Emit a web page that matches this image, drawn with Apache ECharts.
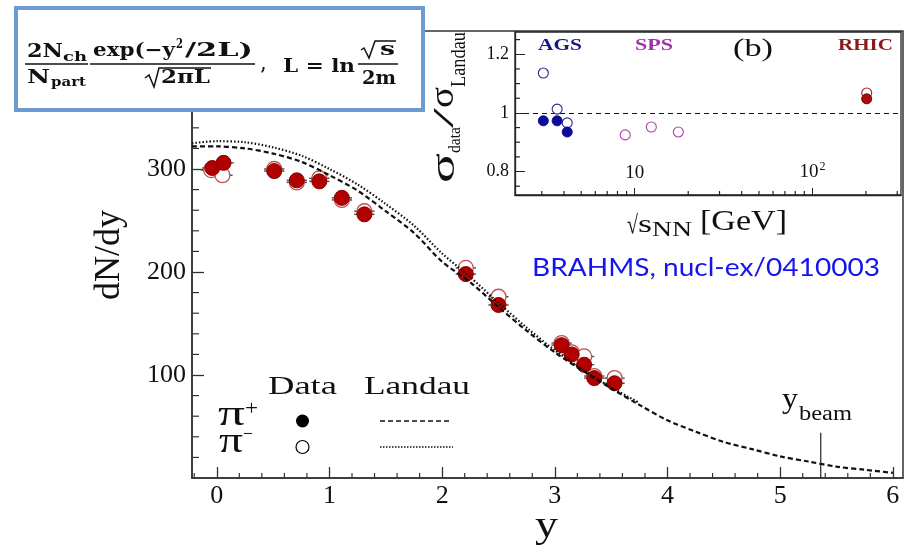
<!DOCTYPE html>
<html><head><meta charset="utf-8">
<script src="https://cdn.jsdelivr.net/npm/echarts@6/dist/echarts.min.js"></script>
<style>html,body{margin:0;padding:0;background:#fff}#c{width:907px;height:550px}</style>
</head><body><div id="c"></div>
<script>
// ---------- data ----------
const piPlusY   = [-0.04, 0.06, 0.51, 0.71, 0.91, 1.11, 1.31, 2.21, 2.50, 3.06, 3.15, 3.26, 3.35, 3.53];
const piPlusN   = [301, 306, 298, 289, 288, 272, 256, 198, 168, 129, 120, 110, 97, 92];
const piMinusY  = [-0.05, 0.05, 0.51, 0.71, 0.91, 1.11, 1.31, 2.21, 2.50, 3.06, 3.15, 3.26, 3.35, 3.53];
const piMinusN  = [299, 294, 300, 287, 291, 270, 259, 204, 176, 131, 122, 118, 99, 97];
const landauPlusY  = [-0.22, 0, 0.25, 0.5, 0.75, 1.0, 1.25, 1.5, 1.75, 2.0, 2.25, 2.5, 2.75, 3.0, 3.25, 3.5, 3.75, 4.0, 4.25, 4.5, 4.75, 5.0, 5.25, 5.5, 5.75, 6.0];
const landauPlusN  = [322, 322, 320, 315, 307, 294, 279, 259, 238, 210, 190, 166, 143, 122, 104, 87, 71, 56, 45, 35, 28, 21, 16, 11, 8, 5];
const landauMinusY = [-0.22, 0, 0.25, 0.5, 0.75, 1.0, 1.25, 1.5, 1.75, 2.0, 2.25, 2.5, 2.75, 3.0, 3.25, 3.5, 3.75];
const landauMinusN = [325, 327, 326, 321, 313, 300, 285, 266, 245, 218, 195, 170, 146, 124, 105, 88, 73];
const yBeam = 5.36;
const xTickLabels = [0, 1, 2, 3, 4, 5, 6];
const yTickLabels = [100, 200, 300, 400];
const mainXRange = [-0.22, 6.09];
const mainYRange = [0, 434];

// inset (b): sigma_data / sigma_Landau vs sqrt(s_NN)
const agsSqrtS      = [3.06, 3.66, 4.17];
const agsFilled     = [0.973, 0.973, 0.935];
const agsOpen       = [1.136, 1.013, 0.966];
const spsSqrtS      = [8.84, 12.4, 17.6];
const spsOpen       = [0.925, 0.952, 0.935];
const rhicSqrtS     = [202];
const rhicFilled    = [1.048];
const rhicOpen      = [1.068];
const insetYTicks   = [0.8, 1, 1.2];
const insetYMinor   = [0.75, 0.85, 0.9, 0.95, 1.05, 1.1, 1.15, 1.25];
const insetXLabels  = [10, 100];
const insetXMinor   = [3, 4, 5, 6, 7, 8, 9, 20, 30, 40, 50, 60, 70, 80, 90, 200, 300];
const insetXRange   = [2.12, 315];
const insetYRange   = [0.72, 1.276];

// ---------- helpers ----------
const lg = v => Math.log10(v);
const zipXY = (xs, ys) => xs.map((x, i) => [x, ys[i]]);
const zipLogXY = (xs, ys) => xs.map((x, i) => [lg(x), ys[i]]);
const mctx = document.createElement('canvas').getContext('2d');
function mw(s, font) { mctx.font = font; return mctx.measureText(s).width; }
const G = [];
function fontStr(size, fam, weight) { return (weight || 'normal') + ' ' + size + 'px ' + fam; }
function T(s, x0, x1, base, size, fam, weight, color) {
  const font = fontStr(size, fam, weight);
  const w = mw(s, font);
  G.push({ type: 'text', x: x0, y: base - 0.35 * size, scaleX: (x1 - x0) / w, z: 110,
    style: { text: s, font: font, fill: color || '#111', textAlign: 'left', textVerticalAlign: 'middle', align: 'left', verticalAlign: 'middle' } });
}
function TR(s, yBottom, yTop, base, size, fam, weight, color) {
  const font = fontStr(size, fam, weight);
  const w = mw(s, font);
  G.push({ type: 'text', x: base - 0.35 * size, y: yBottom, rotation: Math.PI / 2, scaleX: (yBottom - yTop) / w, z: 110,
    style: { text: s, font: font, fill: color || '#111', textAlign: 'left', textVerticalAlign: 'middle', align: 'left', verticalAlign: 'middle' } });
}
function L(pts, w, color, dash) {
  G.push({ type: 'polyline', z: 110, shape: { points: pts },
    style: { stroke: color || '#111', lineWidth: w, fill: null, lineDash: dash || null } });
}
const SERIF = "'Liberation Serif'";
const MATH = "'DejaVu Serif'";

// formula box
G.push({ type: 'rect', z: 105, shape: { x: 16, y: 8, width: 407, height: 102 },
  style: { fill: '#fff', stroke: '#6b9bd1', lineWidth: 4 } });
T('2N', 27, 63, 59, 19, MATH, 'bold');
T('ch', 63, 87, 62, 13, MATH, 'bold');
L([[25, 64], [88, 64]], 1.5);
T('N', 27, 50, 85, 19, MATH, 'bold');
T('part', 51, 86, 87, 13, MATH, 'bold');
T('exp(\u2212y', 93, 175, 58, 19, MATH, 'bold');
T('2', 176, 183, 49, 12, MATH, 'bold');
T('/2L)', 185, 253, 58, 19, MATH, 'bold');
L([[90, 64], [255, 64]], 1.5);
L([[145, 78], [149, 75], [154, 87], [159, 68], [211, 68]], 1.5);
T('2\u03c0L', 161, 210, 85, 19, MATH, 'bold');
T(',', 261, 266, 72, 19, MATH, 'bold');
T('L = ln', 283, 355, 74, 19, MATH, 'bold');
L([[361, 50], [364, 48], [369, 58], [375, 41], [396, 41]], 1.5);
T('s', 380, 395, 57, 19, MATH, 'bold');
L([[358, 64], [398, 64]], 1.5);
T('2m', 362, 396, 86, 19, MATH, 'bold');

// main y-axis title (centred on the axis)
TR('dN/dy', 300, 210, 122, 36, SERIF);
// main x-axis title
T('y', 535, 558, 540, 38, SERIF);

// legend
T('Data', 268, 337, 396, 26, SERIF);
T('Landau', 364, 470, 396, 26, SERIF);
T('\u03c0', 218, 245, 428, 36, SERIF);
T('+', 245, 258, 417, 22, SERIF);
T('\u03c0', 219, 243, 455, 36, SERIF);
T('\u2212', 243, 253, 442, 20, SERIF);
G.push({ type: 'circle', z: 110, shape: { cx: 302.5, cy: 421, r: 6.5 }, style: { fill: '#000' } });
G.push({ type: 'circle', z: 110, shape: { cx: 302.5, cy: 447, r: 6.5 }, style: { fill: '#fff', stroke: '#000', lineWidth: 1.2 } });
L([[380, 421], [450, 421]], 1.5, '#111', [5, 3]);
L([[380, 447], [453, 447]], 1.5, '#111', [1.5, 1.5]);

// y_beam label
T('y', 782, 798, 411, 30, SERIF);
T('beam', 799, 852, 422, 20, SERIF);

// BRAHMS reference
T('BRAHMS, nucl-ex/0410003', 532, 880, 277, 25, 'Lato', 'normal', '#1414f0');

// inset texts
T('AGS', 538, 582, 52, 17, SERIF, 'bold', '#16168a');
T('SPS', 635, 673, 52, 17, SERIF, 'bold', '#a030a8');
T('(b)', 733, 773, 58, 26, SERIF);
T('RHIC', 838, 893, 52, 17, SERIF, 'bold', '#8c1c1c');
TR('\u03c3', 183, 153, 457, 34, SERIF);
TR('data', 153, 127, 461, 17, SERIF);
TR('/', 128, 108, 456, 30, SERIF);
TR('\u03c3', 108, 87, 456, 34, SERIF);
TR('Landau', 87, 32, 467, 20, SERIF);
T('\u221a', 627, 638, 235, 26, SERIF);
T('s', 638, 652, 234, 26, SERIF);
T('NN', 652, 692, 238, 20, SERIF);
T('[GeV]', 700, 787, 233, 30, SERIF);

// ---------- chart ----------
const XERR = 0.09;
function errItem(params, api) {
  const x = api.value(0), v = api.value(1);
  const p1 = api.coord([x - XERR, v]), p2 = api.coord([x + XERR, v]);
  return { type: 'line', shape: { x1: p1[0], y1: p1[1], x2: p2[0], y2: p2[1] }, style: { stroke: '#555', lineWidth: 1.5 } };
}
// minor ticks drawn through the axes' scales
function xTickItem(yAt, len, color) {
  return function (params, api) {
    const p = api.coord([api.value(0), yAt]);
    return { type: 'line', shape: { x1: p[0], y1: p[1], x2: p[0], y2: p[1] - len }, style: { stroke: color, lineWidth: 1.2 } };
  };
}
function yTickItem(xAt, len, color) {
  return function (params, api) {
    const p = api.coord([xAt, api.value(0)]);
    return { type: 'line', shape: { x1: p[0], y1: p[1], x2: p[0] + len, y2: p[1] }, style: { stroke: color, lineWidth: 1.2 } };
  };
}
const minorX = []; for (let k = -1; k <= 30; k++) { if (k % 5 !== 0) minorX.push(+(k * 0.2).toFixed(1)); }
const minorY = []; for (let v = 20; v <= 420; v += 20) { if (v % 100 !== 0) minorY.push(v); }
const AX = '#333';
const labelFont = { fontFamily: SERIF, fontSize: 26, color: '#111' };

const option = {
  animation: false,
  backgroundColor: '#fff',
  grid: [
    { left: 192, top: 31, right: 4, bottom: 72, show: true, borderColor: AX, borderWidth: 1.5, backgroundColor: '#fff' },
    { left: 515, top: 32, right: 6, bottom: 355, show: true, borderColor: '#222', borderWidth: 1.3, backgroundColor: '#fff', z: 3 }
  ],
  xAxis: [
    { type: 'value', gridIndex: 0, position: 'bottom', min: mainXRange[0], max: mainXRange[1], splitLine: { show: false },
      axisLine: { onZero: false, lineStyle: { color: AX, width: 1.5 } },
      axisTick: { inside: true, length: 11, customValues: xTickLabels, lineStyle: { color: AX, width: 1.3 } },
      axisLabel: Object.assign({ customValues: xTickLabels, margin: 5 }, labelFont) },
    { type: 'value', gridIndex: 1, position: 'bottom', z: 6, min: lg(insetXRange[0]), max: lg(insetXRange[1]), splitLine: { show: false },
      axisLine: { onZero: false, lineStyle: { color: '#222', width: 1.3 } },
      axisTick: { inside: true, length: 7, customValues: insetXLabels.map(lg), lineStyle: { color: '#222' } },
      axisLabel: { inside: true, margin: 12, customValues: insetXLabels.map(lg), fontFamily: SERIF, fontSize: 19, color: '#111',
        formatter: v => v > 1.5 ? '{a|10}{b|2}' : '{a|10}',
        rich: { a: { fontFamily: SERIF, fontSize: 19, color: '#111' }, b: { fontFamily: SERIF, fontSize: 12, color: '#111', padding: [0, 0, 10, 1] } } } }
  ],
  yAxis: [
    { type: 'value', gridIndex: 0, position: 'left', min: mainYRange[0], max: mainYRange[1], splitLine: { show: false },
      axisLine: { onZero: false, lineStyle: { color: AX, width: 1.5 } },
      axisTick: { inside: true, length: 12, customValues: yTickLabels, lineStyle: { color: AX, width: 1.3 } },
      axisLabel: Object.assign({ customValues: yTickLabels, margin: 6 }, labelFont) },
    { type: 'value', gridIndex: 1, position: 'left', z: 6, min: insetYRange[0], max: insetYRange[1], splitLine: { show: false },
      axisLine: { onZero: false, lineStyle: { color: '#222', width: 1.3 } },
      axisTick: { inside: true, length: 10, customValues: insetYTicks, lineStyle: { color: '#222' } },
      axisLabel: { customValues: insetYTicks, margin: 6, fontFamily: SERIF, fontSize: 18, color: '#111' } }
  ],
  graphic: { elements: G },
  series: [
    // minor ticks
    { type: 'custom', xAxisIndex: 0, yAxisIndex: 0, z: 2, silent: true, clip: false, renderItem: xTickItem(mainYRange[0], 5, AX), data: minorX.map(v => [v, 0]) },
    { type: 'custom', xAxisIndex: 0, yAxisIndex: 0, z: 2, silent: true, clip: false, renderItem: yTickItem(mainXRange[0], 7, AX), data: minorY.map(v => [v, 0]) },
    { type: 'custom', xAxisIndex: 1, yAxisIndex: 1, z: 8, silent: true, clip: false, renderItem: xTickItem(insetYRange[0], 4, '#222'), data: insetXMinor.map(v => [lg(v), 0]) },
    { type: 'custom', xAxisIndex: 1, yAxisIndex: 1, z: 8, silent: true, clip: false, renderItem: yTickItem(lg(insetXRange[0]), 5, '#222'), data: insetYMinor.map(v => [v, 0]) },
    // error bars
    { type: 'custom', xAxisIndex: 0, yAxisIndex: 0, z: 2, renderItem: errItem, data: zipXY(piMinusY, piMinusN), silent: true },
    { type: 'custom', xAxisIndex: 0, yAxisIndex: 0, z: 2, renderItem: errItem, data: zipXY(piPlusY, piPlusN), silent: true },
    { type: 'scatter', xAxisIndex: 0, yAxisIndex: 0, z: 3, symbol: 'circle', symbolSize: 15,
      itemStyle: { color: '#fff', borderColor: '#c0504d', borderWidth: 1.3, opacity: 1 }, data: zipXY(piMinusY, piMinusN) },
    { type: 'scatter', xAxisIndex: 0, yAxisIndex: 0, z: 4, symbol: 'circle', symbolSize: 15,
      itemStyle: { color: '#b00000', borderColor: '#8a0000', borderWidth: 1, opacity: 1 }, data: zipXY(piPlusY, piPlusN) },
    { type: 'line', xAxisIndex: 0, yAxisIndex: 0, z: 5, smooth: 0.3, showSymbol: false, symbol: 'none',
      lineStyle: { color: '#111', width: 2.2, type: [5, 3] }, data: zipXY(landauPlusY, landauPlusN) },
    { type: 'line', xAxisIndex: 0, yAxisIndex: 0, z: 5, smooth: 0.3, showSymbol: false, symbol: 'none',
      lineStyle: { color: '#111', width: 2.2, type: [1.5, 2] }, data: zipXY(landauMinusY, landauMinusN) },
    { type: 'line', xAxisIndex: 0, yAxisIndex: 0, z: 5, showSymbol: false, symbol: 'none',
      lineStyle: { color: '#222', width: 1.2 }, data: [[yBeam, 0], [yBeam, 44]] },
    // inset
    { type: 'scatter', xAxisIndex: 1, yAxisIndex: 1, z: 6, symbolSize: 10,
      itemStyle: { color: '#fff', borderColor: '#2a2a8a', borderWidth: 1.1, opacity: 1 }, data: zipLogXY(agsSqrtS, agsOpen),
      markLine: { silent: true, symbol: 'none', label: { show: false }, lineStyle: { color: '#111', type: [5, 4], width: 1.2 }, data: [{ yAxis: 1 }] } },
    { type: 'scatter', xAxisIndex: 1, yAxisIndex: 1, z: 7, symbolSize: 10,
      itemStyle: { color: '#0c0c96', borderColor: '#0c0c96', borderWidth: 1, opacity: 1 }, data: zipLogXY(agsSqrtS, agsFilled) },
    { type: 'scatter', xAxisIndex: 1, yAxisIndex: 1, z: 6, symbolSize: 10,
      itemStyle: { color: '#fff', borderColor: '#b040b0', borderWidth: 1.1, opacity: 1 }, data: zipLogXY(spsSqrtS, spsOpen) },
    { type: 'scatter', xAxisIndex: 1, yAxisIndex: 1, z: 6, symbolSize: 10,
      itemStyle: { color: '#fff', borderColor: '#a02020', borderWidth: 1.1, opacity: 1 }, data: zipLogXY(rhicSqrtS, rhicOpen) },
    { type: 'scatter', xAxisIndex: 1, yAxisIndex: 1, z: 7, symbolSize: 10,
      itemStyle: { color: '#a80c0c', borderColor: '#7a0000', borderWidth: 1, opacity: 1 }, data: zipLogXY(rhicSqrtS, rhicFilled) }
  ]
};
const chart = echarts.init(document.getElementById('c'), null, { renderer: 'canvas' });
chart.setOption(option);
</script>
</body></html>
